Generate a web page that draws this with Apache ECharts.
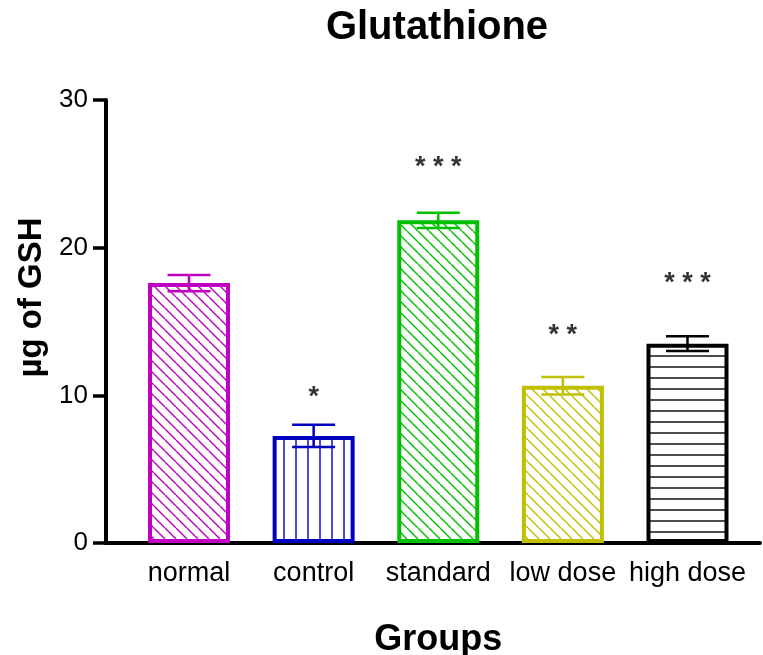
<!DOCTYPE html>
<html>
<head>
<meta charset="utf-8">
<script src="https://cdn.jsdelivr.net/npm/echarts@6.0.0/dist/echarts.min.js"></script>
<style>
html,body{margin:0;padding:0;background:#fff;}
#chart{width:763px;height:655px;}
</style>
</head>
<body>
<div id="chart"></div>
<script>
// ---- data ----
const categories = ['normal', 'control', 'standard', 'low dose', 'high dose'];
const means = [17.6, 7.25, 21.85, 10.65, 13.5];
const errors = [0.55, 0.75, 0.52, 0.6, 0.5];
const starText = ['', '*', '* * *', '* *', '* * *'];
const starY = [null, 10.25, 25.8, 14.46, 18.0];
const yTicks = [0, 10, 20, 30];

// ---- styles ----
const barColors = ['#c000c0', '#0000c0', '#00c000', '#c0c000', '#000000'];
const hatchTypes = ['diag', 'vert', 'diag', 'diag', 'horiz'];
const FONT = '"Liberation Sans", Arial, Helvetica, sans-serif';

function hatch(color, type) {
  const c = document.createElement('canvas');
  let w = 11, h = 11;
  if (type === 'vert') { w = 12; h = 4; }
  if (type === 'horiz') { w = 4; h = 11; }
  c.width = w; c.height = h;
  const ctx = c.getContext('2d');
  ctx.fillStyle = '#fff';
  ctx.fillRect(0, 0, w, h);
  ctx.strokeStyle = color;
  ctx.lineWidth = 1.4;
  ctx.beginPath();
  if (type === 'diag') {
    for (const x0 of [-w, 0, w]) { ctx.moveTo(x0, 0); ctx.lineTo(x0 + w, h); }
  } else if (type === 'vert') {
    ctx.moveTo(8, 0); ctx.lineTo(8, h);
  } else {
    ctx.moveTo(0, 4); ctx.lineTo(w, 4);
  }
  ctx.stroke();
  return { image: c, repeat: 'repeat' };
}

const barData = means.map((v, i) => ({
  value: v,
  itemStyle: { color: hatch(barColors[i], hatchTypes[i]), borderColor: barColors[i], borderWidth: 4 }
}));
const errData = means.map((v, i) => [i, v, errors[i]]);
const starData = starY.map((v, i) => [i, v]);

const chart = echarts.init(document.getElementById('chart'), null, { renderer: 'canvas' });
chart.setOption({
  backgroundColor: '#fff',
  animation: false,
  title: {
    text: 'Glutathione', left: 437, top: 8, padding: 0, textAlign: 'center',
    textStyle: { fontFamily: FONT, fontSize: 40, fontWeight: 'bold', color: '#000' }
  },
  grid: [
    { left: 106, right: 3, top: 100, bottom: 112, outerBoundsMode: 'none' },
    { left: 126.7, right: 13.2, top: 100, bottom: 112, outerBoundsMode: 'none' }
  ],
  xAxis: [
    { gridIndex: 0, type: 'value', min: 0, max: 1,
      axisLine: { show: true, lineStyle: { color: '#000', width: 4 } },
      axisTick: { show: false }, axisLabel: { show: false }, splitLine: { show: false } },
    { gridIndex: 1, type: 'category', data: categories,
      axisLine: { show: false }, axisTick: { show: false }, splitLine: { show: false },
      axisLabel: { fontFamily: FONT, fontSize: 27, color: '#000', margin: 17, interval: 0 },
      name: 'Groups', nameLocation: 'middle', nameGap: 79,
      nameTextStyle: { fontFamily: FONT, fontSize: 36, fontWeight: 'bold', color: '#000' } }
  ],
  yAxis: [
    { gridIndex: 0, type: 'value', min: yTicks[0], max: yTicks[yTicks.length - 1], interval: 10,
      axisLine: { show: true, lineStyle: { color: '#000', width: 4 } },
      axisTick: { show: true, inside: false, length: 13, lineStyle: { color: '#000', width: 3.5 } },
      axisLabel: { fontFamily: FONT, fontSize: 26, color: '#000', margin: 18 },
      splitLine: { show: false },
      name: 'µg of GSH', nameLocation: 'middle', nameGap: 56, nameRotate: 90,
      nameTextStyle: { fontFamily: FONT, fontSize: 33, fontWeight: 'bold', color: '#000', padding: [0, 0, 0, 48] } },
    { gridIndex: 1, type: 'value', min: 0, max: 30, show: false }
  ],
  series: [
    { type: 'bar', xAxisIndex: 1, yAxisIndex: 1, data: barData, barWidth: 82, z: 2 },
    { type: 'custom', xAxisIndex: 1, yAxisIndex: 1, data: errData, z: 3,
      renderItem: function (params, api) {
        const i = api.value(0), m = api.value(1), e = api.value(2);
        const top = api.coord([i, m + e]);
        const bot = api.coord([i, m - e]);
        const half = 21.5;
        const col = barColors[params.dataIndex];
        const st = { stroke: col, lineWidth: 2.5 };
        return { type: 'group', children: [
          { type: 'line', shape: { x1: top[0], y1: top[1], x2: bot[0], y2: bot[1] }, style: st },
          { type: 'line', shape: { x1: top[0] - half, y1: top[1], x2: top[0] + half, y2: top[1] }, style: st },
          { type: 'line', shape: { x1: bot[0] - half, y1: bot[1], x2: bot[0] + half, y2: bot[1] }, style: st }
        ] };
      } },
    { type: 'scatter', xAxisIndex: 1, yAxisIndex: 1, data: starData, symbol: 'circle', symbolSize: 2,
      itemStyle: { color: 'rgba(0,0,0,0)' }, z: 4,
      label: { show: true, position: 'inside', offset: [0, 6], formatter: p => starText[p.dataIndex],
        fontFamily: FONT, fontSize: 27, fontWeight: 'bold', color: '#000' } }
  ]
});
</script>
</body>
</html>
